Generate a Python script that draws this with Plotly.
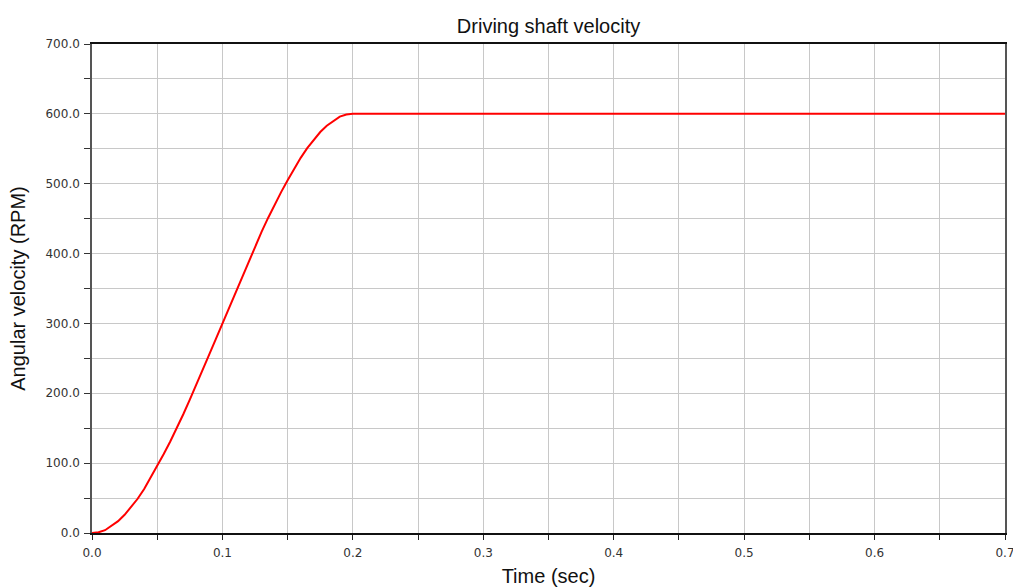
import plotly.graph_objects as go

# Driving shaft speed over time (seconds, RPM): ramp up to 600 RPM, then constant
time_s = [0.000, 0.005, 0.010, 0.015, 0.020, 0.025, 0.030, 0.035, 0.040, 0.045,
          0.050, 0.055, 0.060, 0.065, 0.070, 0.075, 0.080, 0.085, 0.090, 0.095,
          0.100, 0.105, 0.110, 0.115, 0.120, 0.125, 0.130, 0.135, 0.140, 0.145,
          0.150, 0.155, 0.160, 0.165, 0.170, 0.175, 0.180, 0.185, 0.190, 0.195,
          0.200, 0.700]
velocity_rpm = [0, 1, 4, 10, 17, 26, 37, 49, 63, 79,
                96, 113, 131, 150, 170, 191, 212, 234, 256, 278,
                300, 322, 345, 367, 389, 410, 431, 451, 470, 488,
                505, 522, 537, 551, 563, 574, 583, 590, 596, 599,
                600, 600]

x_ticks = [0.0, 0.1, 0.2, 0.3, 0.4, 0.5, 0.6, 0.7]
y_ticks = [0, 100, 200, 300, 400, 500, 600, 700]

font_family = "Liberation Sans, Arial, sans-serif"
tick_font = dict(family="DejaVu Sans, sans-serif", size=12, color="#333")
grid_color = "#c8c8c8"

fig = go.Figure()
fig.add_trace(go.Scatter(
    x=time_s, y=velocity_rpm, mode="lines",
    line=dict(color="#ff0000", width=2),
    showlegend=False, hoverinfo="x+y",
))

fig.update_layout(
    width=1013, height=587,
    margin=dict(l=92, r=8, t=44, b=54),
    paper_bgcolor="white", plot_bgcolor="white",
    font=dict(family=font_family, color="#222"),
    title=dict(text="Driving shaft velocity", x=0.5415, xanchor="center",
               y=0.955, yanchor="middle", font=dict(size=20, color="#111")),
)

fig.update_xaxes(
    range=[0, 0.7], tickvals=x_ticks, ticktext=[f"{v:.1f}" for v in x_ticks],
    ticks="outside", ticklen=5, tickcolor="#222",
    tickfont=tick_font, ticklabelstandoff=3,
    ticklabeloverflow="allow",
    showgrid=True, gridcolor=grid_color, gridwidth=1,
    minor=dict(dtick=0.05, tick0=0, ticks="outside", ticklen=5, tickcolor="#222",
               showgrid=True, gridcolor=grid_color, gridwidth=1),
    showline=True, linecolor="#111", linewidth=1.5, mirror=True,
    zeroline=False, automargin=False,
    title=dict(text="Time (sec)", font=dict(size=20, color="#111"), standoff=10),
)

fig.update_yaxes(
    range=[0, 700], tickvals=y_ticks, ticktext=[f"{v:.1f}" for v in y_ticks],
    ticks="outside", ticklen=6, tickcolor="#333",
    tickfont=tick_font, ticklabelstandoff=2,
    showgrid=True, gridcolor=grid_color, gridwidth=1,
    minor=dict(dtick=50, tick0=0, ticks="outside", ticklen=6, tickcolor="#333",
               showgrid=True, gridcolor=grid_color, gridwidth=1),
    showline=True, linecolor="#555", linewidth=1.5, mirror=True,
    zeroline=False, automargin=False,
    title=dict(text="Angular velocity (RPM)", font=dict(size=20, color="#111"), standoff=14),
)

fig.write_html("out.html")
